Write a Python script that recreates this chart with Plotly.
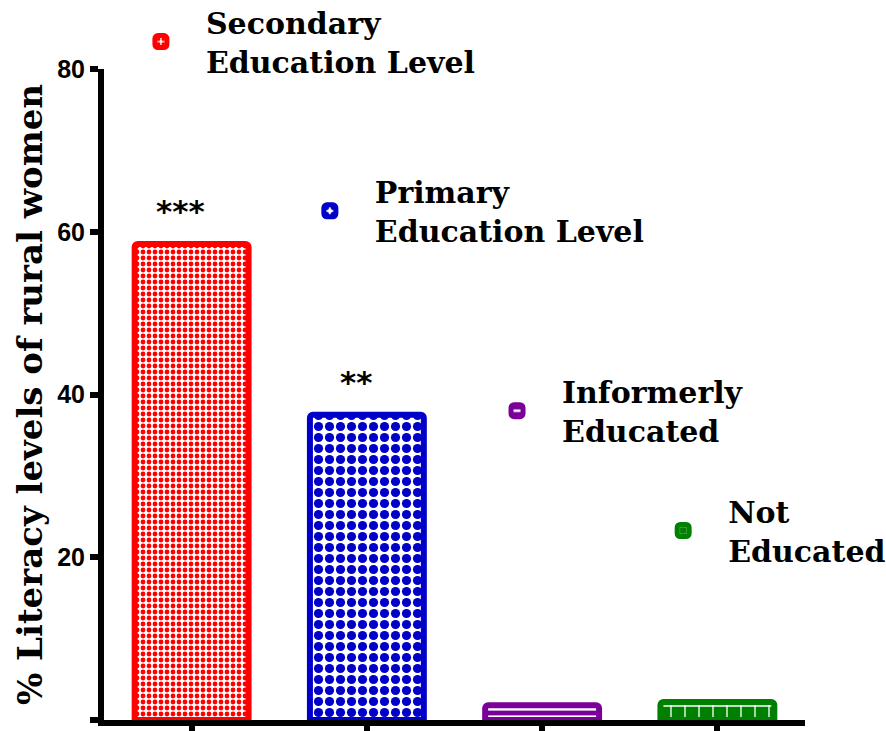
import plotly.graph_objects as go

# ---- data ----
categories = ["Secondary Education Level", "Primary Education Level",
              "Informerly Educated", "Not Educated"]
legend_names = ["Secondary<br>Education Level", "Primary<br>Education Level",
                "Informerly<br>Educated", "Not<br>Educated"]
values = [58.5, 37.5, 1.8, 2.2]
significance = ["***", "**", "", ""]
y_ticks = [0, 20, 40, 60, 80]

# ---- styles ----
colors = ["#FF0000", "#0000C8", "#7A0099", "#008000"]
patterns = [
    dict(shape=".", fgcolor="#FF0000", bgcolor="white", size=6, solidity=0.5,
         fgopacity=1),
    dict(shape=".", fgcolor="#0000C8", bgcolor="white", size=11, solidity=0.55,
         fgopacity=1),
    dict(shape="-", fgcolor="#7A0099", bgcolor="white", size=8, solidity=0.6,
         fgopacity=1),
    dict(shape="+", fgcolor="white", bgcolor="#008000", size=14, solidity=0.18,
         fgopacity=1),
]
legend_ids = ["legend", "legend2", "legend3", "legend4"]
legend_pos = [(0.017, 1.112), (0.258, 0.852), (0.525, 0.545), (0.762, 0.361)]

serif_bold = dict(family="DejaVu Serif", size=30, color="black", weight="bold")

fig = go.Figure()
for i, cat in enumerate(categories):
    fig.add_trace(go.Bar(
        x=[cat], y=[values[i]], name=legend_names[i], width=0.65,
        marker=dict(color=colors[i], pattern=patterns[i], opacity=1,
                    cornerradius=3,
                    line=dict(color=colors[i], width=6)),
        legend=legend_ids[i], showlegend=True,
    ))
    if significance[i]:
        fig.add_annotation(x=cat, y=values[i], text=significance[i],
                           showarrow=False, yanchor="bottom", yshift=13, xshift=-11,
                           font=dict(family="DejaVu Sans", size=31, color="black",
                                     weight="bold"))

layout_legends = {}
for lid, (lx, ly) in zip(legend_ids, legend_pos):
    layout_legends[lid] = dict(x=lx, y=ly, xanchor="left", yanchor="top",
                               xref="paper", yref="paper",
                               bgcolor="rgba(0,0,0,0)", font=serif_bold,
                               itemwidth=80)

fig.update_layout(
    width=886, height=731,
    margin=dict(l=104, r=81, t=69, b=11, autoexpand=False),
    paper_bgcolor="white", plot_bgcolor="white",
    barmode="overlay",
    **layout_legends,
)
fig.update_xaxes(type="category", categoryorder="array", categoryarray=categories,
                 range=[-0.5, 3.5], showticklabels=False, showgrid=False,
                 showline=True, linewidth=6, linecolor="black",
                 ticks="outside", ticklen=12, tickwidth=6, tickcolor="black",
                 zeroline=False, automargin=False)
fig.update_yaxes(range=[0, 80], tickvals=y_ticks, showgrid=False,
                 showline=True, linewidth=6, linecolor="black",
                 ticks="outside", ticklen=8, tickwidth=6, tickcolor="black",
                 zeroline=False, automargin=False,
                 tickfont=dict(family="Liberation Sans", size=25, color="black",
                               weight="bold"),
                 title=dict(text="% Literacy levels of rural women", standoff=6,
                            font=dict(family="DejaVu Serif", size=34, color="black",
                                      weight="bold")))

fig.write_html("out.html", config={"displayModeBar": False},
               post_script="document.body.style.margin='0px';"
                           "document.body.style.overflow='hidden';")
